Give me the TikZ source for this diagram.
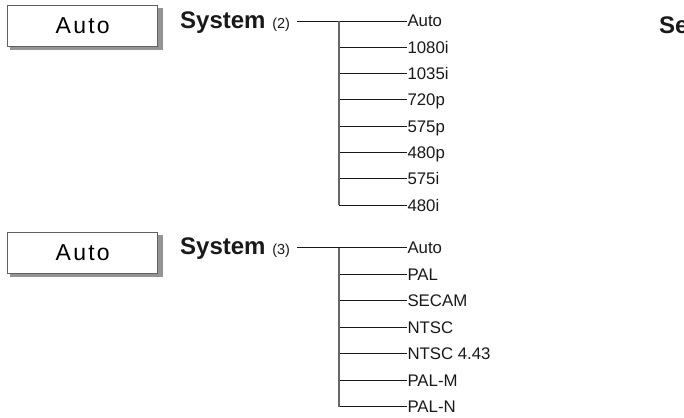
\documentclass[tikz,border=0pt]{standalone}
\usepackage{fontspec}
\setmainfont{Liberation Sans}
\begin{document}
\begin{tikzpicture}[x=1pt,y=-1pt,
  shadowbox/.style={fill=black!42,draw=none},
  autobox/.style={draw=black!62,line width=1.4pt,fill=white,anchor=north west,
    minimum width=150pt,minimum height=41pt,inner sep=0pt,
    font=\fontsize{23}{26}\selectfont},
  item/.style={anchor=west,inner sep=0pt,outer sep=0.5pt,text height=12pt,text depth=0pt,
    font=\fontsize{16.8}{18}\selectfont,text=black!90},
  syslabel/.style={anchor=base west,inner sep=0pt,font=\fontsize{24}{26}\selectfont\bfseries,text=black!90},
  branch/.style={draw=black!90,line width=0.9pt},
  trunk/.style={draw=black!60,line width=1.3pt}]
\useasboundingbox (0,0) rectangle (684,417);
\clip (0,0) rectangle (684,417);

% ---- first block ----
\fill[shadowbox] (10,8) rectangle (163,50);
\node[autobox] (box1) at (7,5) {A\kern2.2pt u\kern2.2pt t\kern2.2pt o};
\node[syslabel] (sys1) at (180,28.3) {System\ {\mdseries\fontsize{14.5}{16}\selectfont(2)}};
\foreach \t [count=\i] in {Auto,1080i,1035i,720p,575p,480p,575i,480i}
  \node[item] (a\i) at (407,{21+26.3*(\i-1)}) {\t};
\coordinate (t1) at (339,21);
\draw[branch] ([xshift=7pt]sys1.east |- a1.west) -- (a1.west);
\foreach \i in {2,...,8}
  \draw[branch] (t1 |- a\i.west) -- (a\i.west);
\draw[trunk] (t1) -- (t1 |- a8.west);

% ---- second block ----
\fill[shadowbox] (10,234.5) rectangle (163,276.5);
\node[autobox] (box2) at (7,231.5) {A\kern2.2pt u\kern2.2pt t\kern2.2pt o};
\node[syslabel] (sys2) at (180,254.5) {System\ {\mdseries\fontsize{14.5}{16}\selectfont(3)}};
\foreach \t [count=\i] in {Auto,PAL,SECAM,NTSC,NTSC 4.43,PAL-M,PAL-N}
  \node[item] (b\i) at (407,{247.7+26.5*(\i-1)}) {\t};
\coordinate (t2) at (339,247.7);
\draw[branch] ([xshift=7pt]sys2.east |- b1.west) -- (b1.west);
\foreach \i in {2,...,7}
  \draw[branch] (t2 |- b\i.west) -- (b\i.west);
\draw[trunk] (t2) -- (t2 |- b7.west);

% ---- heading cut off at the right edge, as in the reference ----
\node[syslabel] (se) at (659,33.3) {Se};
\end{tikzpicture}
\end{document}
